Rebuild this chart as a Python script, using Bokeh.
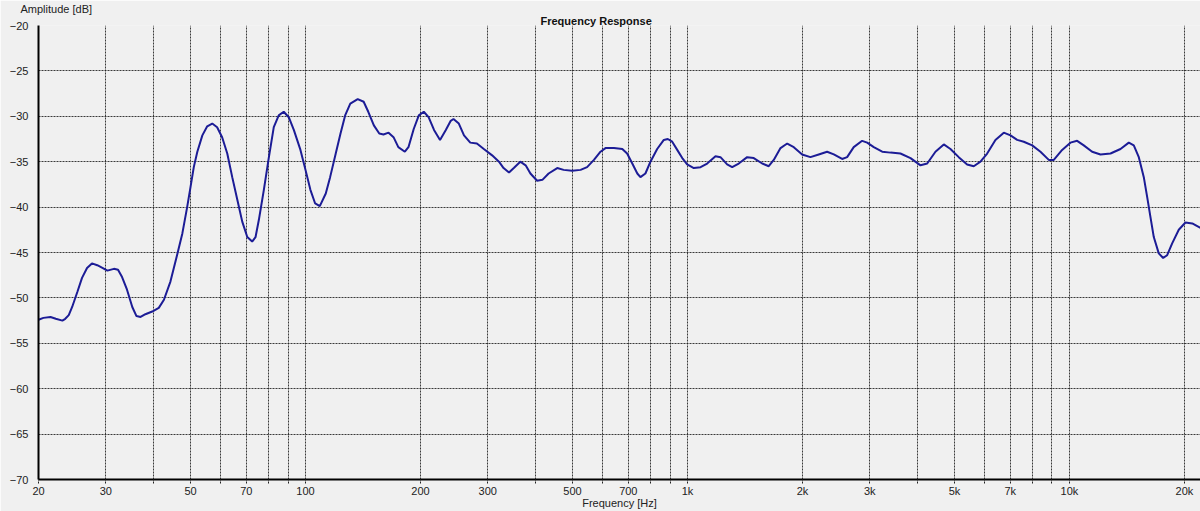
from bokeh.plotting import figure
from bokeh.models import Range1d, FixedTicker, Title
from bokeh.embed import file_html
from bokeh.resources import INLINE

# ---- data ----
freq_hz = [20.0, 20.6, 21.5, 22.2, 23.1, 23.5, 24.0, 24.5, 25.3, 26.0, 26.8, 27.6, 28.5, 29.4,
           30.3, 31.5, 32.3, 33.1, 34.1, 35.2, 36.1, 37.0, 38.1, 39.7, 41.3, 42.6, 44.3, 46.1,
           47.6, 49.0, 50.0, 51.0, 52.1, 53.7, 55.3, 57.0, 58.7, 60.5, 62.4, 64.3, 66.3, 68.3,
           70.4, 72.5, 74.0, 75.5, 77.8, 80.2, 82.6, 85.1, 87.7, 90.4, 93.2, 97.0, 100, 103,
           106, 109, 113, 116, 120, 123.5, 127, 131, 137, 142, 146, 151, 156, 160, 165, 170,
           175, 182, 186, 192, 198, 204, 210, 217, 225, 233, 240, 244, 252, 260, 270, 281, 293,
           308, 321, 330, 341, 351, 365, 377, 388, 404, 417, 433, 456, 474, 499, 525, 546, 569,
           592, 610, 642, 675, 695, 717, 739, 753, 776, 800, 833, 867, 888, 912, 940, 969, 998,
           1039, 1082, 1126, 1184, 1220, 1270, 1309, 1362, 1433, 1491, 1569, 1632, 1682, 1752,
           1824, 1898, 1996, 2098, 2206, 2320, 2416, 2540, 2618, 2724, 2866, 2954, 3074, 3234,
           3400, 3610, 3836, 4074, 4242, 4458, 4688, 4880, 5130, 5396, 5616, 5848, 6088, 6400,
           6730, 7008, 7296, 7592, 7988, 8396, 8828, 9098, 9568, 10058, 10472, 10900, 11466,
           12054, 12806, 13602, 14300, 14736, 15188, 15652, 15976, 16294, 16624, 17130, 17590,
           18020, 18572, 19326, 20120, 20960, 22030]
level_db = [-52.4, -52.2, -52.1, -52.3, -52.5, -52.3, -51.9, -51.0, -49.3, -47.8, -46.7, -46.2,
            -46.4, -46.7, -47.0, -46.8, -46.9, -47.7, -49.1, -51.0, -52.0, -52.1, -51.8, -51.5,
            -51.1, -50.2, -48.2, -45.3, -42.9, -40.0, -37.8, -35.6, -33.9, -32.1, -31.1, -30.8,
            -31.2, -32.3, -34.1, -36.7, -39.2, -41.6, -43.3, -43.8, -43.3, -41.4, -38.1, -34.5,
            -31.2, -29.9, -29.5, -30.1, -31.5, -33.7, -35.9, -38.1, -39.6, -39.9, -38.5, -36.7,
            -34.1, -31.9, -29.9, -28.6, -28.1, -28.4, -29.5, -31.0, -31.9, -32.0, -31.8, -32.3,
            -33.4, -33.9, -33.4, -31.4, -29.9, -29.5, -30.1, -31.5, -32.6, -31.5, -30.5, -30.3,
            -30.8, -32.1, -32.9, -33.0, -33.6, -34.3, -35.0, -35.7, -36.2, -35.7, -35.0, -35.4,
            -36.3, -37.1, -37.0, -36.3, -35.7, -35.9, -36.0, -35.9, -35.6, -34.8, -33.9, -33.5,
            -33.5, -33.6, -34.1, -35.2, -36.3, -36.7, -36.3, -35.0, -33.6, -32.6, -32.5, -32.8,
            -33.7, -34.6, -35.3, -35.7, -35.6, -35.2, -34.4, -34.5, -35.3, -35.6, -35.2, -34.5,
            -34.6, -35.2, -35.5, -34.8, -33.5, -33.0, -33.4, -34.2, -34.5, -34.2, -33.9, -34.2,
            -34.7, -34.5, -33.4, -32.7, -32.9, -33.4, -33.9, -34.0, -34.1, -34.6, -35.4, -35.2,
            -33.9, -33.1, -33.6, -34.5, -35.3, -35.5, -35.0, -34.1, -32.6, -31.8, -32.1, -32.6,
            -32.8, -33.2, -33.9, -34.8, -34.8, -33.7, -32.9, -32.7, -33.2, -33.9, -34.2, -34.1,
            -33.6, -32.9, -33.2, -34.5, -36.7, -38.9, -41.1, -43.3, -45.1, -45.6, -45.3, -44.0,
            -42.5, -41.7, -41.8, -42.3]

x_ticks = [20, 30, 40, 50, 60, 70, 80, 90,
           100, 200, 300, 400, 500, 600, 700, 800, 900,
           1000, 2000, 3000, 4000, 5000, 6000, 7000, 8000, 9000,
           10000, 20000]
x_tick_labels = {20: "20", 30: "30", 50: "50", 70: "70", 100: "100", 200: "200", 300: "300",
                 500: "500", 700: "700", 1000: "1k", 2000: "2k", 3000: "3k", 5000: "5k",
                 7000: "7k", 10000: "10k", 20000: "20k"}
y_ticks = [-70, -65, -60, -55, -50, -45, -40, -35, -30, -25, -20]

FONT = "Liberation Sans"
BG = "#f0f0f0"
TXT = "#222222"

p = figure(width=1200, height=511, x_axis_type="log",
           x_range=Range1d(20, 22030), y_range=Range1d(-70, -20),
           output_backend="svg", toolbar_location=None,
           min_border_left=38, min_border_right=0, min_border_top=25, min_border_bottom=0,
           background_fill_color=BG, border_fill_color=BG, outline_line_color=None)

p.line(freq_hz, level_db, line_color="#1c1c96", line_width=2)

# x axis
xa = p.xaxis[0]
xa.ticker = FixedTicker(ticks=x_ticks, minor_ticks=[])
xa.major_label_overrides = {t: x_tick_labels.get(t, "") for t in x_ticks}
xa.major_tick_out = 4
xa.major_tick_in = 0
xa.major_tick_line_dash = "2 1"
xa.major_tick_line_color = "#222222"
xa.minor_tick_line_color = None
xa.axis_line_color = "black"
xa.axis_line_width = 2
xa.major_label_standoff = 1
xa.major_label_text_font = FONT
xa.major_label_text_font_size = "11px"
xa.major_label_text_line_height = 0.9
xa.major_label_text_color = TXT
xa.axis_label = "Frequency [Hz]"
xa.axis_label_text_font = FONT
xa.axis_label_text_font_size = "11px"
xa.axis_label_text_line_height = 0.8
xa.axis_label_text_font_style = "normal"
xa.axis_label_text_color = TXT
xa.axis_label_standoff = -3

# y axis
ya = p.yaxis[0]
ya.ticker = FixedTicker(ticks=y_ticks, minor_ticks=[])
ya.major_tick_out = 0
ya.major_tick_in = 0
ya.minor_tick_line_color = None
ya.axis_line_color = "black"
ya.axis_line_width = 2
ya.major_label_standoff = 10
ya.major_label_text_font = FONT
ya.major_label_text_font_size = "11px"
ya.major_label_text_color = TXT

# grids
for g in (p.xgrid[0], p.ygrid[0]):
    g.grid_line_color = "#1a1a1a"
    g.grid_line_dash = "2 1"
    g.grid_line_width = 1
    g.grid_line_alpha = 0.85
p.xgrid[0].ticker = FixedTicker(ticks=x_ticks, minor_ticks=[])
p.ygrid[0].ticker = FixedTicker(ticks=y_ticks, minor_ticks=[])

# texts above the plot area (first added sits closest to the plot)
p.add_layout(Title(text="Frequency Response", align="left", offset=502, standoff=-3,
                   text_font=FONT, text_font_size="11px", text_font_style="bold",
                   text_line_height=0.8, text_color="#111111"), "above")
p.add_layout(Title(text="Amplitude [dB]", align="left", offset=-18, standoff=0,
                   text_font=FONT, text_font_size="11px", text_font_style="normal",
                   text_line_height=0.8, text_color=TXT), "above")

open("out.html", "w").write(file_html(p, INLINE))
